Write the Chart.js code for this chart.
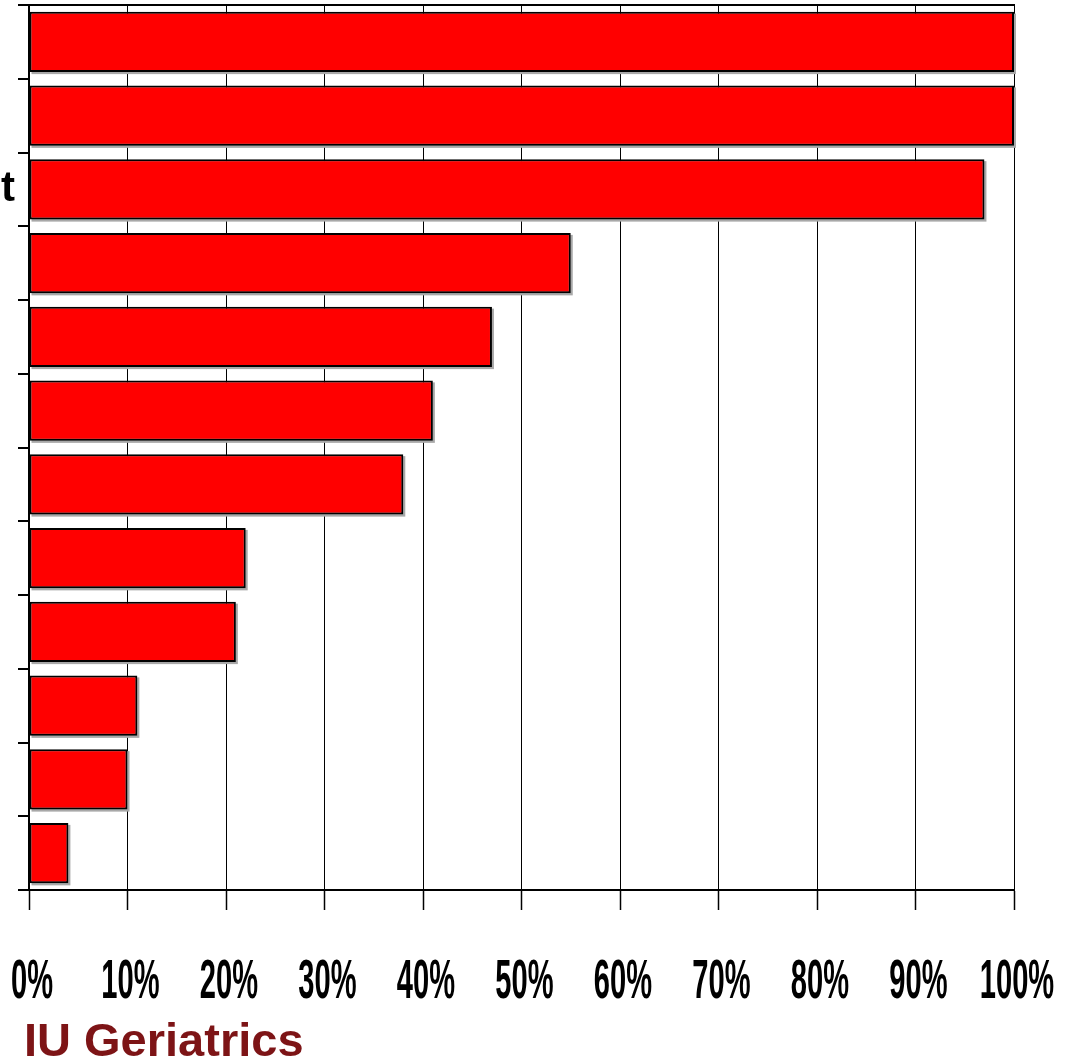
<!DOCTYPE html>
<html>
<head>
<meta charset="utf-8">
<script src="https://cdn.jsdelivr.net/npm/chart.js@4"></script>
<style>
  body { margin: 0; background: #fff; }
  #wrap { position: relative; width: 1072px; height: 1062px; }
  #footer {
    position: absolute; left: 24px; top: 1016px;
    font: bold 47px "Liberation Sans", Arial, sans-serif;
    color: #7d1416; line-height: 47px;
  }
</style>
</head>
<body>
<div id="wrap">
  <canvas id="chart" width="1072" height="1062"></canvas>
  <div id="footer">IU Geriatrics</div>
</div>
<script>
// category labels are cropped off in the source; only the end of one is visible
const labels = ['', '', 't', '', '', '', '', '', '', '', '', ''];
const values = [100, 100, 97, 55, 47, 41, 38, 22, 21, 11, 10, 4];
const xTicks = ['0%', '10%', '20%', '30%', '40%', '50%', '60%', '70%', '80%', '90%', '100%'];

// draws the squeezed bold % labels under the x axis
const squeezedTicks = {
  id: 'squeezedTicks',
  afterDraw(chart) {
    const scale = chart.scales.x;
    const ctx = chart.ctx;
    ctx.save();
    ctx.font = 'bold 56px "Liberation Sans", Arial, sans-serif';
    ctx.fillStyle = '#000';
    ctx.textAlign = 'center';
    ctx.textBaseline = 'alphabetic';
    scale.ticks.forEach((t, i) => {
      const x = scale.getPixelForTick(i) + 3;
      ctx.save();
      ctx.translate(x, scale.top + 108);
      ctx.scale(0.52, 1);
      ctx.fillText(xTicks[i], 0, 0);
      ctx.restore();
    });
    ctx.restore();
  }
};

// light grey drop shadow under each bar, taken from the bar elements
const barShadow = {
  id: 'barShadow',
  beforeDatasetsDraw(chart) {
    const ctx = chart.ctx;
    const meta = chart.getDatasetMeta(0);
    ctx.save();
    ctx.fillStyle = '#a8a8a8';
    meta.data.forEach((bar) => {
      const p = bar.getProps(['x', 'y', 'base', 'height'], true);
      const left = Math.min(p.base, p.x);
      const w = Math.abs(p.x - p.base);
      ctx.fillRect(left + 2, p.y - p.height / 2 + 2, w, p.height);
    });
    ctx.restore();
  }
};

const ctx = document.getElementById('chart').getContext('2d');
new Chart(ctx, {
  type: 'bar',
  data: {
    labels: labels,
    datasets: [{
      data: values,
      backgroundColor: '#ff0000',
      borderColor: '#000',
      borderWidth: 2,
      borderSkipped: false,
      categoryPercentage: 1,
      barPercentage: 0.82
    }]
  },
  options: {
    indexAxis: 'y',
    responsive: false,
    animation: false,
    layout: { autoPadding: false, padding: { top: 5, right: 58, bottom: 0, left: 0 } },
    plugins: {
      legend: { display: false },
      tooltip: { enabled: false }
    },
    scales: {
      x: {
        min: 0,
        max: 100,
        ticks: { stepSize: 10, display: false },
        grid: { color: '#000', lineWidth: 1, tickLength: 20, tickColor: '#000', tickWidth: 1.5 },
        border: { color: '#000', width: 2 },
        afterFit(scale) { scale.height = 172; }
      },
      x2: {
        position: 'top',
        min: 0,
        max: 100,
        ticks: { display: false },
        grid: { display: false, drawTicks: false },
        border: { color: '#000', width: 2 },
        afterFit(scale) { scale.height = 0; }
      },
      y: {
        ticks: {
          color: '#000',
          padding: 3,
          font: { family: '"Liberation Sans", Arial, sans-serif', size: 42, weight: 'bold' }
        },
        grid: { drawOnChartArea: false, tickLength: 11, color: '#000', lineWidth: 2 },
        border: { color: '#000', width: 2 },
        afterFit(scale) {
          scale.width = 29;
          scale.paddingTop = 0;
          scale.paddingBottom = 0;
        }
      }
    }
  },
  plugins: [squeezedTicks, barShadow]
});
</script>
</body>
</html>
